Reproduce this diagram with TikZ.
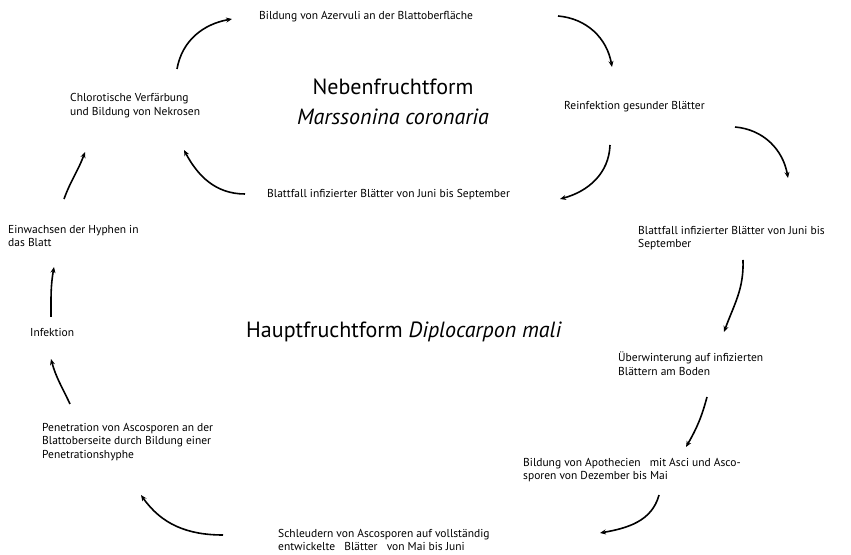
\documentclass[tikz,border=0pt]{standalone}
\usepackage{fontspec}
\setmainfont{PT Sans}
\usepackage{tikz}
\usetikzlibrary{arrows.meta}

\begin{document}
\begin{tikzpicture}[x=1pt, y=1pt,
	lbl/.style={anchor=west, inner sep=0pt, align=left, font=\fontsize{11.5}{13.8}\selectfont},
	ttl/.style={inner sep=0pt, font=\fontsize{22}{30}\selectfont},
	arr/.style={-{Stealth[length=6pt,width=5pt]}, line width=1.6pt, color=black}]
	\useasboundingbox (0,0) rectangle (851,554);
	
	% Nebenfruchtform
	\node[ttl, align=center] (neben) at (393,452) {Nebenfruchtform\\\textit{Marssonina coronaria}};
	\node[lbl] (azerv) at (259,537) {Bildung von Azervuli an der Blattoberfläche};
	\node[lbl] (reinf) at (564,447) {Reinfektion gesunder Blätter};
	\node[lbl] (fall1) at (267,359) {Blattfall infizierter Blätter von Juni bis September};
	\node[lbl] (chloro) at (70,448) {Chlorotische Verfärbung\\und Bildung von Nekrosen};
	
	% Hauptfruchtform
	\node[ttl, anchor=west] (haupt) at (246,222) {Hauptfruchtform \textit{Diplocarpon mali}};
	\node[lbl] (fall2) at (638,316) {Blattfall infizierter Blätter von Juni bis\\September};
	\node[lbl] (ueberw) at (618,190) {Überwinterung auf infizierten\\Blättern am Boden};
	\node[lbl] (apoth) at (523,84) {Bildung von Apothecien \ \ mit Asci und Asco-\\sporen von Dezember bis Mai};
	\node[lbl] (schleud) at (278,14) {Schleudern von Ascosporen auf vollständig\\entwickelte \ \ Blätter \ \ von Mai bis Juni};
	\node[lbl] (penet) at (42,112) {Penetration von Ascosporen an der\\Blattoberseite durch Bildung einer\\Penetrationshyphe};
	\node[lbl] (infekt) at (30,221) {Infektion};
	\node[lbl] (einw) at (8,318) {Einwachsen der Hyphen in\\das Blatt};
	
	% kleiner Kreis
	\draw[arr] ([shift={(107,37)}]chloro.west) to[out=80,in=190] ([shift={(-27,-2)}]azerv.west);
	\draw[arr] ([shift={(299,1)}]azerv.west) to[out=-5,in=100] ([shift={(48,40)}]reinf.west);
	\draw[arr] ([shift={(46,-38)}]reinf.west) to[out=-92,in=15] ([shift={(293,-4)}]fall1.west);
	\draw[arr] ([shift={(-22,1)}]fall1.west) to[out=180,in=-62] ([shift={(114,-44)}]chloro.west);
	
	% grosser Kreis
	\draw[arr] ([shift={(171,-20)}]reinf.west) to[out=-5,in=100] ([shift={(150,60)}]fall2.west);
	\draw[arr] ([shift={(105,-22)}]fall2.west) to[out=-88,in=70] ([shift={(106,32)}]ueberw.west);
	\draw[arr] ([shift={(89,-33)}]ueberw.west) to[out=-105,in=60] ([shift={(163,23)}]apoth.west);
	\draw[arr] ([shift={(136,-25)}]apoth.west) to[out=-105,in=10] ([shift={(322,7)}]schleud.west);
	\draw[arr] ([shift={(-55,5)}]schleud.west) to[out=180,in=-55] ([shift={(99,-53)}]penet.west);
	\draw[arr] ([shift={(28,38)}]penet.west) to[out=115,in=-75] ([shift={(21,-26)}]infekt.west);
	\draw[arr] ([shift={(21,16)}]infekt.west) to[out=90,in=-100] ([shift={(46,-31)}]einw.west);
	\draw[arr] ([shift={(56,37)}]einw.west) to[out=70,in=-110] ([shift={(15,-46)}]chloro.west);
\end{tikzpicture}
\end{document}
